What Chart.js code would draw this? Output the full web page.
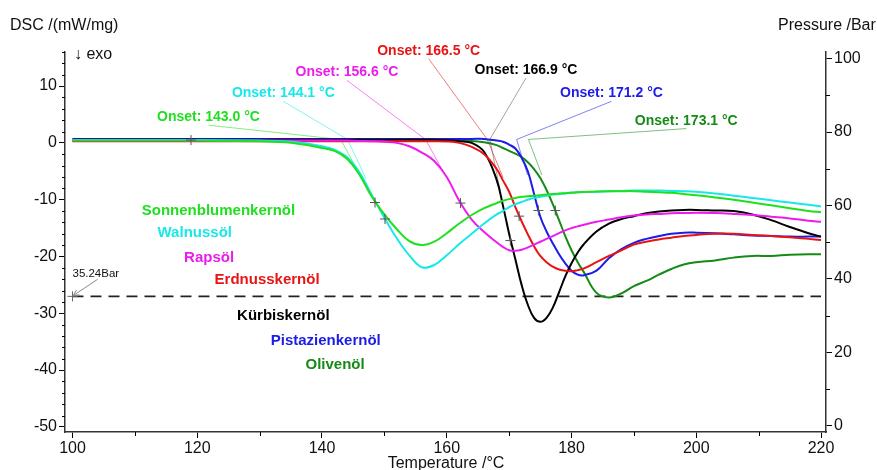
<!DOCTYPE html>
<html>
<head>
<meta charset="utf-8">
<script src="https://cdn.jsdelivr.net/npm/chart.js@4.4.1/dist/chart.umd.min.js"></script>
<style>
  html, body { margin: 0; padding: 0; background: #fff; }
  #dsc { display: block; }
</style>
</head>
<body>
<canvas id="dsc" width="877" height="470"></canvas>
<script>
// DSC-Kurven (mW/mg) über der Temperatur (°C)
var temps = [100, 110, 120, 130, 134, 137, 140, 142, 144, 146,
             148, 150, 152, 154, 156, 158, 160, 162, 164, 166,
             168, 169, 170, 171, 172, 173, 174, 175, 176, 177,
             178, 179, 180, 181, 182, 184, 186, 188, 190, 192,
             194, 196, 198, 200, 203, 206, 209, 212, 215, 218, 220];

var sonnenblumen = [0.4, 0.4, 0.4, 0.3, 0.1, -0.3, -0.9, -1.4, -2.8, -5.6,
                    -9.5, -12.6, -15.2, -17.3, -18.0, -17.4, -15.9, -14.2, -12.7, -11.5,
                    -10.6, -10.2, -9.9, -9.7, -9.5, -9.4, -9.3, -9.2, -9.1, -9.0,
                    -8.9, -8.85, -8.8, -8.7, -8.65, -8.55, -8.5, -8.5, -8.5, -8.6,
                    -8.7, -8.8, -9.0, -9.2, -9.6, -10.0, -10.5, -11.0, -11.5, -12.0, -12.2];
var walnuss = [0.5, 0.5, 0.5, 0.4, 0.3, 0.0, -0.6, -1.2, -2.5, -5.2,
               -9.2, -13.2, -16.8, -19.8, -21.9, -21.5, -19.8, -17.8, -16.0, -14.2,
               -12.6, -12.0, -11.3, -10.8, -10.4, -10.0, -9.7, -9.5, -9.3, -9.1,
               -9.0, -8.9, -8.75, -8.7, -8.65, -8.6, -8.5, -8.45, -8.4, -8.4,
               -8.4, -8.45, -8.5, -8.6, -8.9, -9.3, -9.7, -10.1, -10.5, -10.9, -11.2];
var raps = [0.4, 0.4, 0.4, 0.4, 0.4, 0.4, 0.4, 0.4, 0.4, 0.35,
            0.3, 0.2, 0.0, -0.6, -1.7, -3.2, -6.0, -10.2, -13.5, -15.7,
            -17.5, -18.3, -18.9, -19.0, -18.8, -18.4, -17.9, -17.4, -16.9, -16.4,
            -15.9, -15.4, -15.0, -14.7, -14.4, -13.9, -13.5, -13.1, -12.8, -12.6,
            -12.5, -12.4, -12.35, -12.3, -12.35, -12.5, -12.7, -13.0, -13.3, -13.7, -13.9];
var erdnuss = [0.3, 0.3, 0.3, 0.3, 0.3, 0.3, 0.3, 0.3, 0.3, 0.3,
               0.3, 0.3, 0.3, 0.3, 0.3, 0.3, 0.25, 0.0, -0.7, -2.0,
               -4.6, -6.6, -8.6, -11.3, -13.8, -16.1, -18.2, -19.9, -21.0, -21.8,
               -22.3, -22.5, -22.6, -22.4, -22.1, -21.0, -19.9, -18.9, -17.9, -17.4,
               -17.0, -16.7, -16.4, -16.2, -16.0, -16.0, -16.2, -16.4, -16.6, -16.9, -17.1];
var kuerbis = [0.55, 0.55, 0.55, 0.55, 0.55, 0.55, 0.55, 0.55, 0.55, 0.55,
               0.55, 0.55, 0.55, 0.55, 0.55, 0.55, 0.45, 0.3, 0.0, -1.6,
               -6.5, -11.0, -16.0, -20.5, -25.0, -28.5, -30.8, -31.5, -30.8, -29.0,
               -26.3, -23.5, -21.2, -19.3, -17.8, -15.6, -14.2, -13.4, -12.9, -12.4,
               -12.1, -11.9, -11.8, -11.8, -11.9, -12.0, -12.6, -13.6, -14.8, -15.9, -16.5];
var pistazien = [0.7, 0.7, 0.7, 0.7, 0.7, 0.7, 0.7, 0.7, 0.7, 0.7,
                 0.7, 0.7, 0.7, 0.7, 0.7, 0.7, 0.7, 0.7, 0.7, 0.7,
                 0.4, 0.2, -0.3, -1.0, -2.6, -5.0, -9.0, -13.0, -15.6, -17.7,
                 -19.6, -21.2, -22.5, -23.2, -23.3, -22.5, -20.3, -18.7, -17.6, -16.9,
                 -16.4, -16.0, -15.8, -15.8, -15.9, -16.1, -16.3, -16.4, -16.5, -16.5, -16.5];
var oliven = [0.35, 0.35, 0.35, 0.35, 0.35, 0.35, 0.35, 0.35, 0.35, 0.35,
              0.35, 0.35, 0.35, 0.35, 0.35, 0.35, 0.35, 0.35, 0.35, 0.1,
              -0.4, -0.9, -1.4, -1.9, -2.5, -3.4, -4.6, -6.2, -8.3, -10.8,
              -13.6, -16.4, -18.9, -21.0, -22.8, -26.4, -27.2, -26.5, -25.2, -24.3,
              -23.2, -22.2, -21.4, -21.0, -20.7, -20.2, -19.9, -19.9, -19.7, -19.6, -19.6];

var oilNames = ['Sonnenblumenkernöl', 'Walnussöl', 'Rapsöl', 'Erdnusskernöl',
                'Kürbiskernöl', 'Pistazienkernöl', 'Olivenöl'];
var oilValues = [sonnenblumen, walnuss, raps, erdnuss, kuerbis, pistazien, oliven];
var oilColors = ['#1fe01f', '#19e8e8', '#ec1cec', '#e81414', '#000000', '#1c1ce8', '#168a16'];

// Onset-Auswertung
var onsetTemps = [143.0, 144.1, 156.6, 166.5, 166.9, 171.2, 173.1];
var stepTemps = [148.5, 150.1, 162.2, 171.6, 170.2, 174.7, 177.4];
var stepValues = [-10.5, -13.4, -10.6, -12.9, -17.2, -11.9, -11.9];
var baseMarkTemps = [119.0];
var baseMarkValues = [0.5];

// Druck (Bar), rechte Achse
var pressureTemps = [100, 220];
var pressureValues = [35.24, 35.24];

var xTicks = [100, 120, 140, 160, 180, 200, 220];
var dscTicks = [-50, -40, -30, -20, -10, 0, 10];
var barTicks = [0, 20, 40, 60, 80, 100];

// Textpositionen in Achsenwerten (T, DSC)
var onsetLabelPos = [[121.8, 4.7], [133.8, 8.9], [144.0, 12.6], [157.1, 16.4],
                     [172.7, 13.0], [186.4, 8.9], [198.4, 4.1]];
var oilLabelPos = [[123.4, -11.8], [119.6, -15.7], [121.9, -20.0], [131.2, -23.9],
                   [133.8, -30.3], [140.6, -34.6], [142.1, -38.9]];

var FONT = 'Arial, "Liberation Sans", sans-serif';

function fade(hex, a) {
  var r = parseInt(hex.substr(1, 2), 16), g = parseInt(hex.substr(3, 2), 16), b = parseInt(hex.substr(5, 2), 16);
  return 'rgba(' + r + ',' + g + ',' + b + ',' + a + ')';
}

function pts(xs, ys) {
  return xs.map(function (t, i) { return { x: t, y: ys[i] }; });
}

var datasets = oilNames.map(function (name, i) {
  return {
    label: name,
    data: pts(temps, oilValues[i]),
    borderColor: oilColors[i],
    borderWidth: 2,
    pointRadius: 0,
    fill: false,
    tension: 0.4,
    yAxisID: 'y'
  };
});

datasets.unshift({
  label: 'Stufen',
  data: pts(stepTemps.concat(baseMarkTemps), stepValues.concat(baseMarkValues)),
  showLine: false,
  pointStyle: 'cross',
  pointRadius: 5,
  borderColor: '#555',
  borderWidth: 1,
  yAxisID: 'y'
});

datasets.push({
  label: 'Druck',
  data: pts(pressureTemps, pressureValues),
  borderColor: '#222',
  borderWidth: 1.7,
  borderDash: [11, 7],
  pointRadius: [5, 0],
  pointStyle: 'cross',
  pointBorderColor: '#666',
  pointBorderWidth: 1,
  yAxisID: 'y1'
});

var overlay = {
  id: 'overlay',
  beforeDatasetsDraw: function (chart) {
    var ctx = chart.ctx, x = chart.scales.x, y = chart.scales.y;
    ctx.save();
    ctx.lineWidth = 1;
    onsetTemps.forEach(function (t, i) {
      var ox = x.getPixelForValue(t), oy = y.getPixelForValue(0.6);
      var lx = x.getPixelForValue(onsetLabelPos[i][0]);
      var ly = y.getPixelForValue(onsetLabelPos[i][1]) + 9;
      var mx = x.getPixelForValue(stepTemps[i]), my = y.getPixelForValue(stepValues[i]);
      ctx.strokeStyle = fade(oilColors[i] === '#000000' ? '#555555' : oilColors[i], 0.55);
      ctx.beginPath();
      ctx.moveTo(lx, ly);
      ctx.lineTo(ox, oy);
      ctx.lineTo(ox + (mx - ox) * 0.5, oy + (my - oy) * 0.5);
      ctx.stroke();
    });
    ctx.restore();
  },
  afterDraw: function (chart) {
    var ctx = chart.ctx, a = chart.chartArea;
    var x = chart.scales.x, y = chart.scales.y, y1 = chart.scales.y1;
    ctx.save();

    // Nebenteilstriche
    ctx.strokeStyle = '#000';
    ctx.lineWidth = 1;
    ctx.beginPath();
    for (var v = -50; v <= 16; v += 2) {
      if (v % 10 === 0) continue;
      var py = Math.round(y.getPixelForValue(v)) + 0.5;
      ctx.moveTo(a.left - 3, py); ctx.lineTo(a.left, py);
    }
    for (var p = 10; p <= 100; p += 20) {
      var qy = Math.round(y1.getPixelForValue(p)) + 0.5;
      ctx.moveTo(a.right, qy); ctx.lineTo(a.right + 4, qy);
    }
    for (var t = 110; t <= 220; t += 20) {
      var px = Math.round(x.getPixelForValue(t)) + 0.5;
      ctx.moveTo(px, a.bottom); ctx.lineTo(px, a.bottom + 4);
    }
    ctx.stroke();

    // Achsentitel
    ctx.fillStyle = '#111';
    ctx.font = '16px ' + FONT;
    ctx.textBaseline = 'alphabetic';
    ctx.textAlign = 'left';
    ctx.fillText('DSC /(mW/mg)', 10, 30);
    ctx.fillText('Pressure /Bar', 778, 30);
    ctx.textAlign = 'center';
    ctx.fillText('Temperature /°C', 446, 468);
    ctx.textAlign = 'left';
    ctx.fillText('\u2193 exo', a.left + 9, 59);

    // 35.24Bar
    var bx = x.getPixelForValue(pressureTemps[0]), by = y1.getPixelForValue(pressureValues[0]);
    ctx.font = '11.5px ' + FONT;
    ctx.fillText(pressureValues[0].toFixed(2) + 'Bar', bx, by - 19);
    ctx.strokeStyle = '#888';
    ctx.beginPath();
    ctx.moveTo(bx + 25, by - 17); ctx.lineTo(bx + 1, by - 1);
    ctx.moveTo(bx + 1, by - 1); ctx.lineTo(bx + 7, by - 1.5);
    ctx.moveTo(bx + 1, by - 1); ctx.lineTo(bx + 4, by - 6.5);
    ctx.stroke();

    // Onset-Beschriftungen
    ctx.textAlign = 'center';
    ctx.font = 'bold 14px ' + FONT;
    onsetTemps.forEach(function (t, i) {
      ctx.fillStyle = oilColors[i];
      ctx.fillText('Onset: ' + t.toFixed(1) + ' °C',
        x.getPixelForValue(onsetLabelPos[i][0]), y.getPixelForValue(onsetLabelPos[i][1]) + 5);
    });

    // Probennamen
    ctx.font = 'bold 15px ' + FONT;
    oilNames.forEach(function (name, i) {
      ctx.fillStyle = oilColors[i];
      ctx.fillText(name, x.getPixelForValue(oilLabelPos[i][0]), y.getPixelForValue(oilLabelPos[i][1]) + 5.4);
    });
    ctx.restore();
  }
};

function setTicks(list) {
  return function (scale) {
    scale.ticks = list.map(function (v) { return { value: v }; });
  };
}

var tickFont = { family: FONT, size: 16 };
var ctxDsc = document.getElementById('dsc').getContext('2d');
var dscChart = new Chart(ctxDsc, {
  type: 'line',
  data: { datasets: datasets },
  options: {
    responsive: false,
    animation: false,
    devicePixelRatio: 1,
    events: [],
    layout: { padding: { top: 52, left: 0, right: 0, bottom: 0 } },
    plugins: { legend: { display: false }, tooltip: { enabled: false } },
    scales: {
      x: {
        type: 'linear',
        min: 98.8,
        max: 220.8,
        afterBuildTicks: setTicks(xTicks),
        afterFit: function (s) { s.height = 38; },
        ticks: { font: tickFont, color: '#111', padding: 1, maxRotation: 0 },
        grid: { drawOnChartArea: false, tickLength: 6, color: '#000' },
        border: { color: '#333', width: 1.5 }
      },
      y: {
        type: 'linear',
        position: 'left',
        min: -50.9,
        max: 16.0,
        afterBuildTicks: setTicks(dscTicks),
        afterFit: function (s) { s.width = 65; },
        ticks: { font: tickFont, color: '#111', padding: 2 },
        grid: { drawOnChartArea: false, tickLength: 6, color: '#000' },
        border: { color: '#333', width: 1.5 }
      },
      y1: {
        type: 'linear',
        position: 'right',
        min: -1.7,
        max: 101.8,
        afterBuildTicks: setTicks(barTicks),
        afterFit: function (s) { s.width = 51; },
        ticks: { font: tickFont, color: '#111', padding: 2 },
        grid: { drawOnChartArea: false, tickLength: 6, color: '#000' },
        border: { color: '#333', width: 1.5 }
      }
    }
  },
  plugins: [overlay]
});
</script>
</body>
</html>
